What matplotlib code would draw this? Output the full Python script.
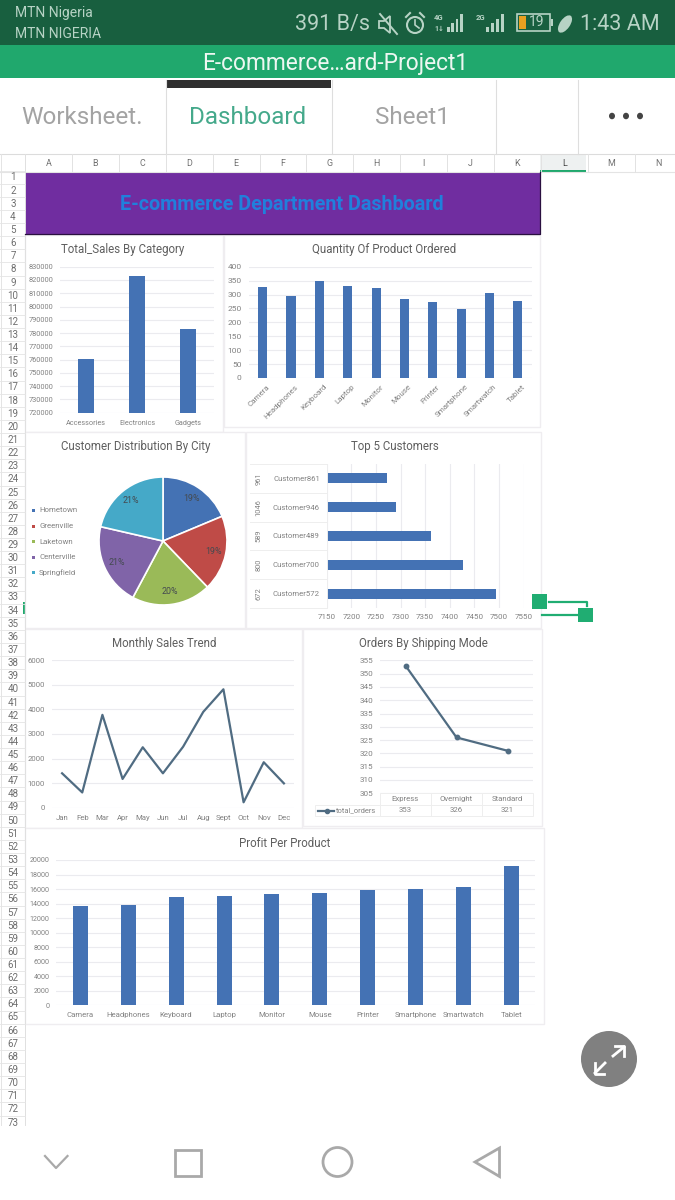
import matplotlib
matplotlib.use("Agg")
import matplotlib.pyplot as plt
from matplotlib.patches import Rectangle, Circle, Ellipse, Polygon
from matplotlib.transforms import ScaledTranslation

# Values
sales_categories = ["Accessories", "Electronics", "Gadgets"]
sales_values = [760200, 823000, 783000]

products = ["Camera", "Headphones", "Keyboard", "Laptop", "Monitor", "Mouse",
            "Printer", "Smartphone", "Smartwatch", "Tablet"]
quantity_values = [327, 293, 350, 332, 323, 283, 273, 248, 307, 277]
profit_values = [13600, 13800, 14900, 15000, 15370, 15410, 15870, 16050, 16280, 19220]

cities = ["Hometown", "Greenville", "Laketown", "Centerville", "Springfield"]
city_shares = [18.7, 19.1, 20.0, 20.8, 21.4]
city_colors = ["#4472b4", "#bf4b47", "#9aba58", "#8064a8", "#45a9c8"]

customers = ["Customer572", "Customer700", "Customer489", "Customer946", "Customer861"]
customer_ids = ["672", "800", "589", "1046", "961"]
customer_values = [7494, 7426, 7361, 7290, 7273]

months = ["Jan", "Feb", "Mar", "Apr", "May", "Jun", "Jul", "Aug", "Sept", "Oct", "Nov", "Dec"]
month_values = [1400, 620, 3780, 1170, 2460, 1400, 2480, 3900, 4820, 220, 1850, 990]

ship_modes = ["Express", "Overnight", "Standard"]
ship_orders = [353, 326, 321]

col_letters = list("ABCDEFGHIJKLMN")

W, H = 675, 1200
BAR = "#4472b4"
LINE = "#506c82"
GRID = "#ebebef"
TITLE = "#5f5f5f"
TICK = "#828282"
plt.rcParams["font.family"] = ["Roboto", "DejaVu Sans"]

fig = plt.figure(figsize=(W / 100, H / 100), dpi=100, facecolor="white")

# Background axes in screen pixels, used for the app chrome
bg = fig.add_axes([0, 0, 1, 1], zorder=0)
bg.set_xlim(0, W)
bg.set_ylim(H, 0)
bg.axis("off")


def px_axes(x0, y0, x1, y1):
    ax = fig.add_axes([x0 / W, 1 - y1 / H, (x1 - x0) / W, (y1 - y0) / H], zorder=2)
    ax.patch.set_alpha(0)
    for s in ax.spines.values():
        s.set_visible(False)
    return ax


def rect(x0, y0, x1, y1, **kw):
    bg.add_patch(Rectangle((x0, y0), x1 - x0, y1 - y0, **kw))


def style(ax, grid_axis="y", size=5.6):
    ax.grid(axis=grid_axis, color=GRID, lw=0.8)
    ax.set_axisbelow(True)
    ax.tick_params(length=0, labelsize=size, labelcolor=TICK, pad=5)


# Status bar, title bar, tabs
rect(0, 0, W, 45, fc="#185f3f", ec="none")
rect(0, 45, W, 78, fc="#20a86d", ec="none")
bg.text(15, 13.5, "MTN Nigeria", color="#b7d3c5", fontsize=10, va="center")
bg.text(15, 33.5, "MTN NIGERIA", color="#b7d3c5", fontsize=10, va="center")
bg.text(295, 24.5, "391 B/s", color="#b7d3c5", fontsize=15.5, va="center")
bg.text(660, 24.5, "1:43 AM", color="#b7d3c5", fontsize=15.5, va="center", ha="right")
# mute icon
bg.add_patch(Polygon([(379, 21), (384, 21), (390, 16), (390, 33), (384, 28), (379, 28)],
                     fc="none", ec="#b7d3c5", lw=1.3))
bg.plot([380, 397], [14, 34], color="#b7d3c5", lw=1.4)
# alarm icon
bg.add_patch(Circle((415, 25), 8, fc="none", ec="#b7d3c5", lw=1.5))
bg.plot([415, 415, 419], [20, 25, 28], color="#b7d3c5", lw=1.2)
bg.plot([406, 410], [17, 13], color="#b7d3c5", lw=1.5)
bg.plot([420, 424], [13, 17], color="#b7d3c5", lw=1.5)
# signal icons
bg.text(439, 18, "4G", color="#b7d3c5", fontsize=5.5, ha="center", va="center", fontweight="bold")
bg.text(439, 29, "1↓", color="#b7d3c5", fontsize=5, ha="center", va="center", fontweight="bold")
for i, h in enumerate([5, 9, 13, 18]):
    rect(447 + i * 4.4, 32 - h, 449.5 + i * 4.4, 32, fc="#b7d3c5", ec="none")
bg.text(481, 17, "2G", color="#b7d3c5", fontsize=5.5, ha="center", va="center", fontweight="bold")
for i, h in enumerate([5, 9, 13, 18]):
    rect(486 + i * 5, 32 - h, 488.7 + i * 5, 32, fc="#b7d3c5", ec="none")
# battery and leaf
rect(517, 14, 550, 31, fc="none", ec="#b7d3c5", lw=1.2)
rect(519, 16, 526, 29, fc="#e8a020", ec="none")
rect(551, 19, 553, 26, fc="#b7d3c5", ec="none")
bg.text(537, 22.5, "19", color="#b7d3c5", fontsize=10, ha="center", va="center")
bg.add_patch(Ellipse((565, 24), 10, 20, angle=35, fc="#b7d3c5", ec="none"))

bg.text(335.5, 63.5, "E-commerce…ard-Project1", color="#eef7f2", fontsize=16.4, ha="center", va="center")

rect(166, 80, 331, 88, fc="#2f2f2f", ec="none")
for x in [165.7, 331.5, 496, 577.5]:
    bg.plot([x, x], [80, 154], color="#dedede", lw=0.8)
bg.text(82, 118, "Worksheet.", color="#a3a3a3", fontsize=17.5, ha="center", va="center")
bg.text(248, 118, "Dashboard", color="#45a98b", fontsize=17.5, ha="center", va="center")
bg.text(413, 118, "Sheet1", color="#a3a3a3", fontsize=17.5, ha="center", va="center")
for x in [612, 626, 640]:
    bg.add_patch(Ellipse((x, 116), 6, 6.5, fc="#444444", ec="none"))

# Sheet headers
bg.plot([0, W], [154, 154], color="#dcdcdc", lw=0.8)
bg.plot([0, W], [172, 172], color="#e4e4e4", lw=0.8)
rect(539.5, 154, 586, 172, fc="#eef1f1", ec="none")
rect(539.5, 170, 586, 172.5, fc="#20a86d", ec="none")
for i, letter in enumerate(col_letters):
    x = 25 + i * 46.9
    bg.plot([x, x], [154, 172], color="#e2e2e2", lw=0.7)
    bg.text(x + 23.4, 164, letter, color="#707070" if letter != "L" else "#444444",
            fontsize=6.4, ha="center", va="center")
bg.plot([0.5, 0.5], [154, 1125], color="#e4e4e4", lw=0.7)
bg.plot([25, 25], [154, 1125], color="#e0e0e0", lw=0.7)
for i in range(73):
    y = 170.5 + i * 13.125
    bg.plot([0, 25], [y, y], color="#e4e4e4", lw=0.6)
    bg.text(13, y + 7, str(i + 1), color="#6e6e6e", fontsize=7, ha="center", va="center")
rect(22.5, 602, 25, 614, fc="#20a86d", ec="none")

# Banner
rect(25, 172, 539.5, 234, fc="#702da0", ec="none")
bg.plot([539.5, 539.5, 25], [172, 234, 234], color="#2a1040", lw=0.9)
bg.text(282, 204, "E-commerce Department Dashboard", color="#2080dc", fontsize=14.2,
        fontweight="bold", ha="center", va="center")

# Chart cards
for x0, y0, x1, y1 in [(25, 235, 223, 432), (224, 235, 540, 427), (25, 432, 245, 628),
                       (246, 432, 541, 628), (25, 629, 302, 828), (303, 629, 542, 826),
                       (25, 828, 544, 1024)]:
    rect(x0, y0, x1, y1, fc="white", ec="#efedf0", lw=1)

for x, y, t in [(123, 249.5, "Total_Sales By Category"), (384, 249.5, "Quantity Of Product Ordered"),
                (136, 446.5, "Customer Distribution By City"), (395, 446.5, "Top 5 Customers"),
                (164.5, 643.5, "Monthly Sales Trend"), (423.5, 643.5, "Orders By Shipping Mode"),
                (285, 843.5, "Profit Per Product")]:
    bg.text(x, y, t, color=TITLE, fontsize=8.3, ha="center", va="center")

# Total sales
ax = px_axes(60, 266.7, 214, 412.7)
ax.bar(sales_categories, sales_values, width=0.31, color=BAR)
ax.set_xlim(-0.5, 2.5)
ax.set_ylim(720000, 830000)
ax.set_yticks(range(720000, 830001, 10000))
style(ax, size=5.3)
ax.tick_params(axis="x", labelsize=5.2, pad=5)

# Quantity ordered
ax = px_axes(248.5, 266.7, 532, 378)
ax.bar(products, quantity_values, width=0.32, color=BAR)
ax.set_xlim(-0.5, 9.5)
ax.set_ylim(0, 400)
ax.set_yticks(range(0, 401, 50))
style(ax, size=6)
ax.tick_params(axis="x", labelsize=5.8, pad=4)
shift = ScaledTranslation(4 / 100, 0, fig.dpi_scale_trans)
for lab in ax.get_xticklabels():
    lab.set_rotation(45)
    lab.set_ha("right")
    lab.set_rotation_mode("anchor")
    lab.set_transform(lab.get_transform() + shift)

# City pie
ax = px_axes(98, 477, 228, 605)
wedges, _, pct = ax.pie(city_shares, colors=city_colors, startangle=90, counterclock=False,
                        radius=1.0, autopct="%.0f%%", pctdistance=0.8,
                        wedgeprops={"edgecolor": "white", "linewidth": 1.2})
for p in pct:
    p.set_fontsize(6.4)
    p.set_color("#444a50")
ax.set_xlim(-1.01, 1.01)
ax.set_ylim(-1.0, 1.0)
for i, (c, col) in enumerate(zip(cities, city_colors)):
    y = 510.5 + i * 15.5
    rect(31.5, y - 1.5, 34.5, y + 1.5, fc=col, ec="none")
    bg.text(39, y, c, color=TICK, fontsize=5.7, va="center")

# Top customers
ax = px_axes(326.7, 464, 523.7, 608)
ax.barh(customers, customer_values, height=0.35, color=BAR)
ax.set_xlim(7150, 7550)
ax.set_ylim(-0.5, 4.5)
ax.set_xticks(range(7150, 7551, 50))
style(ax, grid_axis="x", size=5.8)
ax.tick_params(axis="x", pad=4)
ax.tick_params(axis="y", pad=5, labelsize=5.6)
for i, cid in enumerate(customer_ids):
    ax.text(-0.345, i, cid, transform=ax.get_yaxis_transform(), rotation=90, color=TICK,
            fontsize=5.4, ha="center", va="center")
    ax.plot([-0.39, 0], [i - 0.5, i - 0.5], transform=ax.get_yaxis_transform(),
            color="#eeeeee", lw=0.7, clip_on=False)
ax.plot([-0.39, 0], [4.5, 4.5], transform=ax.get_yaxis_transform(), color="#eeeeee", lw=0.7, clip_on=False)
ax.plot([0, 0], [0, 1], transform=ax.transAxes, color="#eeeeee", lw=0.7, clip_on=False)

# Monthly sales
ax = px_axes(52, 660.3, 294, 807.7)
ax.plot(months, month_values, color=LINE, lw=1.6)
ax.set_xlim(-0.5, 11.5)
ax.set_ylim(0, 6000)
ax.set_yticks(range(0, 6001, 1000))
style(ax, size=5.6)

# Shipping mode, with a data table under the axis
ax = px_axes(380, 660.3, 533, 793.3)
ax.plot(ship_modes, ship_orders, color=LINE, lw=1.6, marker="o", ms=3.2)
ax.set_xlim(-0.5, 2.5)
ax.set_ylim(305, 355)
ax.set_yticks(range(305, 356, 5))
style(ax, size=5.9)
ax.tick_params(axis="x", labelbottom=False)
tb = ax.table(cellText=[[str(v) for v in ship_orders]], colLabels=ship_modes,
              cellLoc="center", bbox=[0, -0.171, 1, 0.171])
tb.auto_set_font_size(False)
tb.set_fontsize(5.6)
for (r, c), cell in tb.get_celld().items():
    cell.set_edgecolor("#eeeeee")
    cell.set_linewidth(0.7)
    cell.set_facecolor("none")
    cell.get_text().set_color(TICK)
rect(315, 805, 380, 816, fc="none", ec="#eeeeee", lw=0.7)
bg.plot([318, 326.5, 334], [810.5, 810.5, 810.5], color=LINE, lw=1.6, marker="o", ms=3, markevery=[1])
bg.text(376.5, 810.5, "total_orders", color=TICK, fontsize=5.4, ha="right", va="center")

# Profit per product
ax = px_axes(56.4, 860, 535.4, 1005.3)
ax.bar(products, profit_values, width=0.315, color=BAR)
ax.set_xlim(-0.5, 9.5)
ax.set_ylim(0, 20000)
ax.set_yticks(range(0, 20001, 2000))
style(ax, size=5.1)
ax.tick_params(axis="x", labelsize=5.6, pad=4.5)

# Selection handles
rect(532, 594, 547, 609, fc="#20ad72", ec="none", zorder=6)
rect(578, 608, 593, 622, fc="#20ad72", ec="none", zorder=6)
bg.plot([549, 587, 587], [601.7, 601.7, 606], color="#20ad72", lw=1.6, zorder=6)
bg.plot([542, 577], [615, 615], color="#20ad72", lw=1.6, zorder=6)

# Expand button
bg.add_patch(Ellipse((609, 1059), 56, 56, fc="#808080", ec="none", zorder=6))
bg.plot([613, 624], [1056, 1047], color="white", lw=2, zorder=7)
bg.plot([615, 624, 624], [1046, 1046, 1056], color="white", lw=2, zorder=7)
bg.plot([605, 595], [1063, 1073], color="white", lw=2, zorder=7)
bg.plot([595, 595, 604], [1063, 1074, 1074], color="white", lw=2, zorder=7)

# Navigation bar
NAV = "#a9a9a9"
bg.plot([45, 56, 67.5], [1156, 1168, 1156], color=NAV, lw=1.6)
rect(174.5, 1149.5, 201, 1175.5, fc="none", ec=NAV, lw=2)
bg.add_patch(Ellipse((337.5, 1162), 29, 29, fc="none", ec=NAV, lw=2))
bg.add_patch(Polygon([(499.5, 1148), (475, 1162), (499.5, 1176.5)], closed=True, fc="none", ec=NAV, lw=2))

fig.savefig("out.png", dpi=100, facecolor="white")
